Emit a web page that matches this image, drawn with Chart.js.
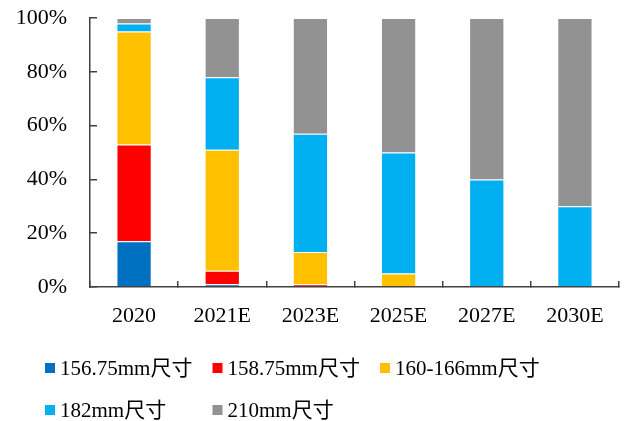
<!DOCTYPE html>
<html>
<head>
<meta charset="utf-8">
<script src="https://cdn.jsdelivr.net/npm/chart.js@4"></script>
<style>
  html, body { margin: 0; padding: 0; background: #fff; }
  #wrap { width: 625px; height: 421px; position: relative; }
</style>
</head>
<body>
<div id="wrap"><canvas id="c" width="625" height="421"></canvas></div>
<script>
// Wafer size market share by year (%)
const categories = ['2020', '2021E', '2023E', '2025E', '2027E', '2030E'];
const size156 = [17, 1, 0, 0, 0, 0];
const size158 = [36, 5, 1, 0, 0, 0];
const size160 = [42, 45, 12, 5, 0, 0];
const size182 = [3, 27, 44, 45, 40, 30];
const size210 = [2, 22, 43, 50, 60, 70];
const seriesNames = ['156.75mm尺寸', '158.75mm尺寸', '160-166mm尺寸', '182mm尺寸', '210mm尺寸'];
const seriesColors = ['#0070C0', '#FF0000', '#FFC000', '#00B0F0', '#929292'];
const yTicks = [0, 20, 40, 60, 80, 100];

const FONT = "'Liberation Serif', 'Times New Roman', 'Noto Sans CJK SC', serif";
const AXIS_COLOR = '#404040';

// Legend laid out as a fixed grid of three columns under the plot
const gridLegend = {
  id: 'gridLegend',
  afterDraw(chart, args, opts) {
    const ctx = chart.ctx;
    ctx.save();
    ctx.font = opts.fontSize + 'px ' + FONT;
    ctx.textBaseline = 'middle';
    ctx.textAlign = 'left';
    chart.data.datasets.forEach((ds, i) => {
      const col = i % opts.columns;
      const row = Math.floor(i / opts.columns);
      const x = opts.left + col * opts.colWidth;
      const y = opts.rows[row];
      ctx.fillStyle = ds.backgroundColor;
      ctx.fillRect(x, y - opts.box / 2, opts.box, opts.box);
      ctx.fillStyle = '#000';
      ctx.fillText(ds.label, x + opts.box + 5, y + 1);
    });
    ctx.restore();
  }
};

const values = [size156, size158, size160, size182, size210];

// Keep the plot box fixed: the scales' label padding must not shrink it
function clearScalePadding(scale) {
  scale.paddingTop = 0;
  scale.paddingBottom = 0;
  scale.paddingLeft = 0;
  scale.paddingRight = 0;
}

new Chart(document.getElementById('c'), {
  type: 'bar',
  data: {
    labels: categories,
    datasets: values.map((v, i) => ({
      label: seriesNames[i],
      data: v,
      backgroundColor: seriesColors[i],
      borderColor: 'rgba(255,255,255,0.35)',
      borderWidth: 1,
      barPercentage: 0.4,
      categoryPercentage: 1.0
    }))
  },
  options: {
    responsive: false,
    animation: false,
    devicePixelRatio: 1,
    layout: { padding: { left: 0, right: 6, top: 18, bottom: 0 } },
    plugins: {
      legend: { display: false },
      tooltip: { enabled: false },
      gridLegend: {
        fontSize: 21,
        columns: 3,
        left: 45,
        colWidth: 167.5,
        rows: [368, 410],
        box: 10
      }
    },
    scales: {
      x: {
        stacked: true,
        grid: {
          offset: true,
          drawOnChartArea: false,
          drawTicks: true,
          tickLength: -6,
          color: AXIS_COLOR,
          lineWidth: 1.5
        },
        border: { display: true, color: AXIS_COLOR, width: 1.5 },
        ticks: {
          color: '#000',
          padding: 22,
          font: { family: FONT, size: 22 },
          maxRotation: 0
        },
        afterFit(scale) { scale.height = 134; clearScalePadding(scale); }
      },
      y: {
        stacked: true,
        min: 0,
        max: 100,
        afterBuildTicks(scale) { scale.ticks = yTicks.map(v => ({ value: v })); },
        grid: {
          drawOnChartArea: false,
          drawTicks: true,
          tickLength: -7,
          color: AXIS_COLOR,
          lineWidth: 1.5
        },
        border: { display: true, color: AXIS_COLOR, width: 1.5 },
        ticks: {
          color: '#000',
          padding: 30,
          font: { family: FONT, size: 22 },
          callback: v => v + '%'
        },
        afterFit(scale) { scale.width = 90; clearScalePadding(scale); }
      }
    }
  },
  plugins: [gridLegend]
});
</script>
</body>
</html>
